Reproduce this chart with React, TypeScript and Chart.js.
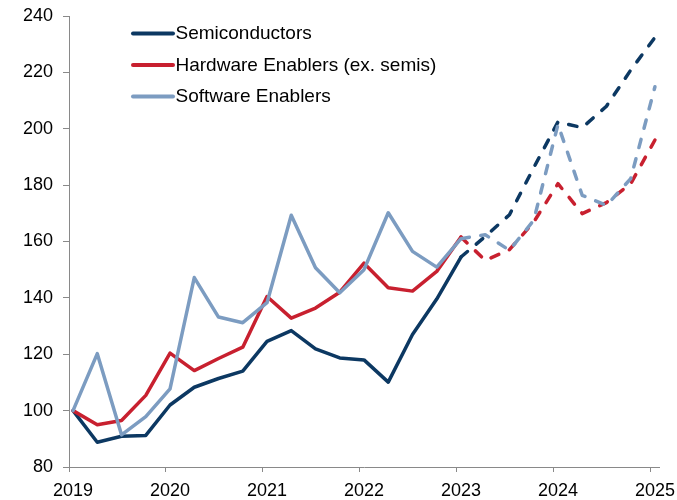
import React, { useEffect, useRef } from 'react';
import { Chart, registerables } from 'chart.js';

Chart.register(...registerables);

// Quarterly observation dates (year-month)
const actualDates = [
  '2019-01', '2019-04', '2019-07', '2019-10',
  '2020-01', '2020-04', '2020-07', '2020-10',
  '2021-01', '2021-04', '2021-07', '2021-10',
  '2022-01', '2022-04', '2022-07', '2022-10',
  '2023-01',
];
const forecastDates = [
  '2023-01', '2023-04', '2023-07', '2023-10',
  '2024-01', '2024-04', '2024-07', '2024-10',
  '2025-01',
];

const yearLabels = ['2019', '2020', '2021', '2022', '2023', '2024', '2025'];
const yTicks = [80, 100, 120, 140, 160, 180, 200, 220, 240];

const seriesNames = ['Semiconductors', 'Hardware Enablers (ex. semis)', 'Software Enablers'];
const seriesColors = ['#0C3862', '#C8202F', '#7C9CC1'];

const semisActual = [100, 88.8, 90.9, 91.2, 102.0, 108.3, 111.4, 114.0, 124.6, 128.4, 121.9, 118.7, 118.0, 110.1, 127.0, 139.6, 154.5];
const semisForecast = [154.5, 161.8, 169.5, 186.2, 202.4, 200.4, 208.0, 220.8, 232.4];

const hardwareActual = [100, 95.0, 96.5, 105.4, 120.4, 114.2, 118.5, 122.5, 140.5, 132.8, 136.4, 142.0, 152.3, 143.6, 142.4, 149.4, 161.6];
const hardwareForecast = [161.6, 153.3, 157.1, 166.9, 180.5, 169.9, 173.8, 180.5, 196.0];

const softwareActual = [100, 120.2, 91.4, 97.9, 107.7, 147.2, 133.2, 131.2, 138.3, 169.3, 150.7, 141.8, 150.0, 170.2, 156.5, 150.9, 161.0];
const softwareForecast = [161.0, 162.4, 156.9, 167.5, 201.5, 176.4, 172.8, 182.3, 214.9];

const FONT = '"Liberation Sans", Arial, sans-serif';

// month slot index (centre of the month) from Jan 2019
function toMonth(d: string): number {
  const [y, m] = d.split('-').map(Number);
  return (y - 2019) * 12 + (m - 1) + 0.5;
}

function pts(dates: string[], vals: number[]) {
  return dates.map((d, i) => ({ x: toMonth(d), y: vals[i] }));
}

const legendPlugin = {
  id: 'customLegend',
  afterDraw(chart: any) {
    const ctx = chart.ctx;
    ctx.save();
    const x0 = 133;
    const x1 = 173;
    const ys = [33.5, 65, 96.5];
    seriesNames.forEach((name, i) => {
      ctx.strokeStyle = seriesColors[i];
      ctx.lineWidth = 4;
      ctx.lineCap = 'round';
      ctx.beginPath();
      ctx.moveTo(x0, ys[i]);
      ctx.lineTo(x1, ys[i]);
      ctx.stroke();
      ctx.fillStyle = '#000';
      ctx.font = `19px ${FONT}`;
      ctx.textBaseline = 'middle';
      ctx.textAlign = 'left';
      ctx.fillText(name, x1 + 2.5, ys[i] + 0.5);
    });
    ctx.restore();
  },
};

export default function App() {
  const ref = useRef<HTMLCanvasElement>(null);

  useEffect(() => {
    if (!ref.current) return;
    const solid = (data: any, color: string) => ({
      data,
      borderColor: color,
      backgroundColor: color,
      borderWidth: 3.5,
      pointRadius: 0,
      tension: 0,
      borderJoinStyle: 'round',
      borderCapStyle: 'round',
      fill: false,
    });
    const dashed = (data: any, color: string) => ({
      ...solid(data, color),
      borderDash: [8.5, 11.5],
    });

    const chart = new Chart(ref.current, {
      type: 'line',
      data: {
        datasets: [
          dashed(pts(forecastDates, softwareForecast), seriesColors[2]),
          dashed(pts(forecastDates, hardwareForecast), seriesColors[1]),
          dashed(pts(forecastDates, semisForecast), seriesColors[0]),
          solid(pts(actualDates, softwareActual), seriesColors[2]),
          solid(pts(actualDates, hardwareActual), seriesColors[1]),
          solid(pts(actualDates, semisActual), seriesColors[0]),
        ] as any,
      },
      options: {
        responsive: false,
        animation: false,
        devicePixelRatio: 1,
        layout: { padding: { top: 16, right: 18, left: 0, bottom: 0 } },
        plugins: {
          legend: { display: false },
          tooltip: { enabled: false },
        },
        scales: {
          x: {
            type: 'linear',
            min: 0,
            max: 73,
            afterBuildTicks: (s: any) => {
              s.ticks = yearLabels.map((_, i) => ({ value: i * 12 }));
            },
            afterFit: (s: any) => {
              s.height = 33;
              s.paddingLeft = 0;
              s.paddingRight = 0;
            },
            ticks: {
              autoSkip: false,
              maxRotation: 0,
              labelOffset: 4,
              padding: 8,
              color: '#000',
              font: { family: FONT, size: 18 },
              callback: (_v: any, i: number) => yearLabels[i],
            },
            grid: { drawOnChartArea: false, drawTicks: true, tickLength: 5, color: '#898989', lineWidth: 1 },
            border: { display: true, color: '#898989', width: 1 },
          },
          y: {
            min: 80,
            max: 240,
            afterBuildTicks: (s: any) => {
              s.ticks = yTicks.map((v) => ({ value: v }));
            },
            afterFit: (s: any) => {
              s.width = 69;
              s.paddingTop = 0;
              s.paddingBottom = 0;
            },
            ticks: {
              padding: 10,
              color: '#000',
              font: { family: FONT, size: 18 },
              callback: (v: any) => String(v),
            },
            grid: { drawOnChartArea: false, drawTicks: true, tickLength: 6, color: '#898989', lineWidth: 1 },
            border: { display: true, color: '#898989', width: 1 },
          },
        },
      } as any,
      plugins: [legendPlugin],
    });
    return () => chart.destroy();
  }, []);

  return (
    <div style={{ position: 'absolute', left: 0, top: 0, width: 677, height: 500, background: '#fff' }}>
      <canvas ref={ref} width={677} height={500} style={{ display: 'block', width: 677, height: 500 }} />
    </div>
  );
}
